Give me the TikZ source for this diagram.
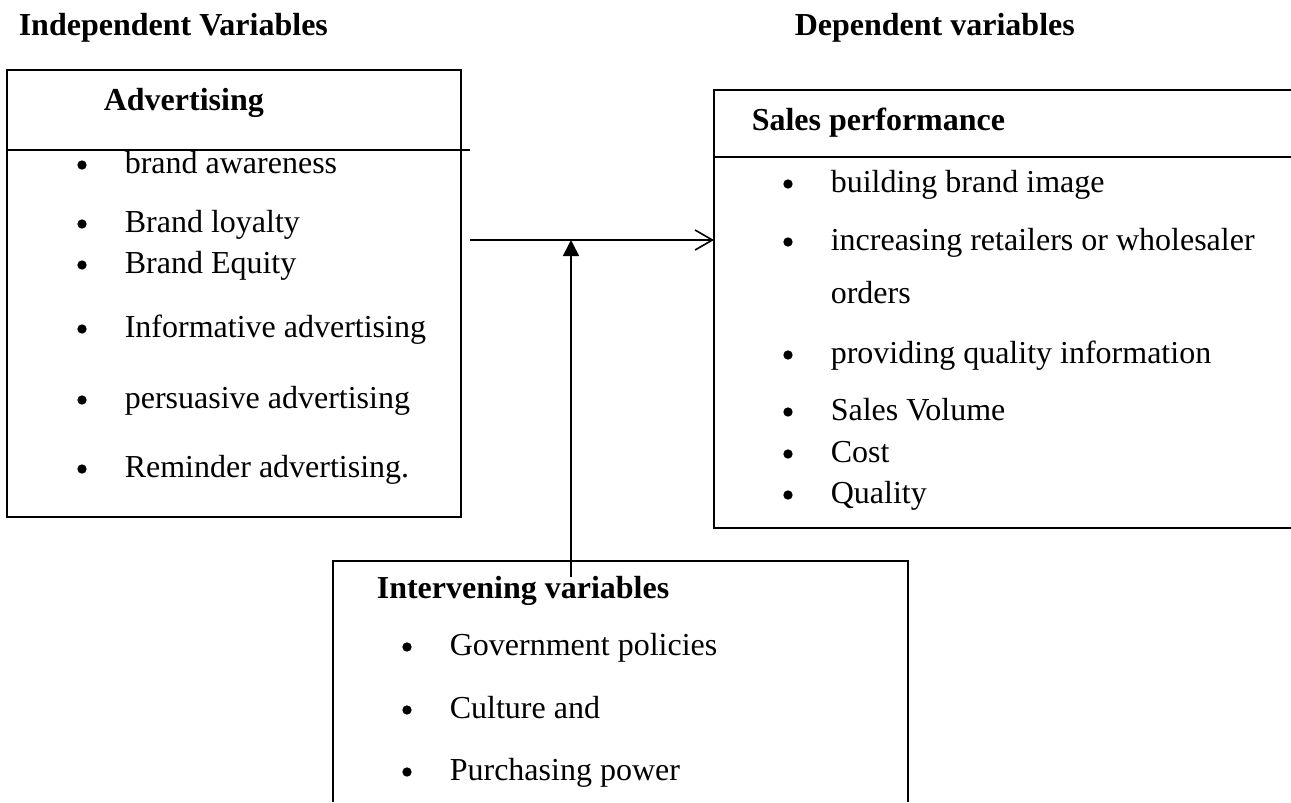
\documentclass[tikz,border=0pt]{standalone}
\usepackage{fontspec}
\setmainfont{Liberation Serif}
\usetikzlibrary{arrows.meta,positioning}

\begin{document}
\begin{tikzpicture}[x=0.375pt,y=-0.375pt,line width=0.6pt]
      \tikzstyle{every node}=[inner sep=0pt,anchor=base west,font=\fontsize{12}{14}\selectfont]
      \tikzstyle{head}=[font=\fontsize{12}{14}\selectfont\bfseries]
      \tikzstyle{frame}=[draw=black]
      \tikzstyle{dot}=[shift={(-15.75pt,3pt)}]
      \tikzstyle{link}=[-{Straight Barb[length=6.5pt,width=7.5pt]}]
      \tikzstyle{push}=[-{Triangle[length=6pt,width=6pt]}]
      \useasboundingbox (0,0) rectangle (1291,802);

      % column headings
      \node[head] (indep) at (18,35)  {Independent Variables};
      \node[head] (dep)   at (794,35) {Dependent variables};

      % advertising box
      \draw[frame] (7,70) rectangle (461,517);
      \draw (7,150) -- (470,150);
      \node[head] (adv) at (103,110) {Advertising};
      \foreach \y/\txt [count=\i] in {173/brand awareness, 232/Brand loyalty,
          273/Brand Equity, 337/Informative advertising,
          408/persuasive advertising, 477/Reminder advertising.}
      {
        \node (adv\i) at (124,\y) {\txt};
        \fill ([dot]adv\i.base west) circle (1.75pt);
      }

      % sales performance box, runs off the right edge
      \draw[frame] (1291,90) -- (714,90) coordinate (sales-nw) -- (714,528) -- (1291,528);
      \draw (714,157) -- (1291,157);
      \node[head] (sales) at (751,130) {Sales performance};
      \foreach \y/\txt [count=\i] in {192/building brand image,
          250/increasing retailers or wholesaler,
          363/providing quality information,
          420/Sales Volume, 462/Cost, 503/Quality}
      {
        \node (sales\i) at (830,\y) {\txt};
        \fill ([dot]sales\i.base west) circle (1.75pt);
      }
      \node (sales2b) at (830,303) {orders};

      % intervening box, runs off the bottom edge
      \draw[frame] (333,802) -- (333,561) -- (908,561) -- (908,802);
      \node[head] (inter) at (376,598) {Intervening variables};
      \foreach \y/\txt [count=\i] in {655/Government policies,
          718/Culture and, 780/Purchasing power}
      {
        \node (inter\i) at (449,\y) {\txt};
        \fill ([dot]inter\i.base west) circle (1.75pt);
      }

      % connectors
      \coordinate (link-start) at (470,240);
      \coordinate (link-end)   at (sales-nw |- link-start);
      \coordinate (push-start) at (571,577);
      \coordinate (push-end)   at (push-start |- link-start);

      \draw[link] (link-start) -- (link-end);
      \draw[push] (push-start) -- (push-end);
\end{tikzpicture}
\end{document}
